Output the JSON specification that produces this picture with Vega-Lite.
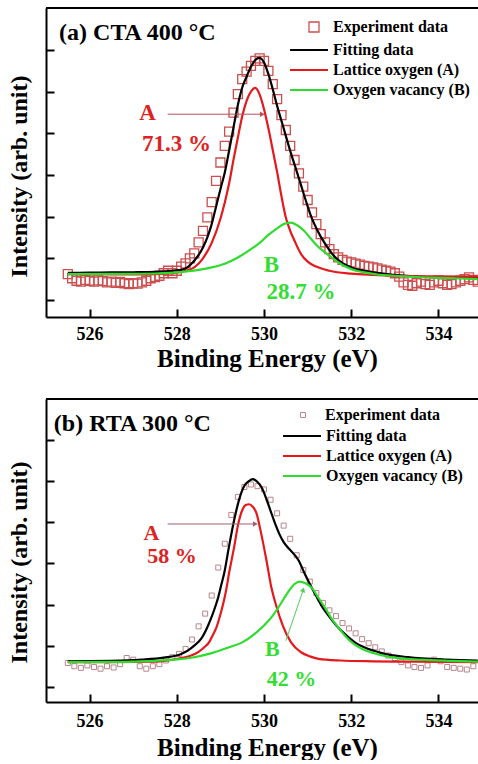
{
"$schema":"https://vega.github.io/schema/vega-lite/v6.json",
"padding":{"left":6,"top":7,"right":0,"bottom":0},
"spacing":27,
"config":{"view":{"stroke":null},"font":"Liberation Serif",
 "legend":{"labelFont":"Liberation Serif","labelFontWeight":"bold","labelFontSize":16,"labelColor":"black","padding":0,"rowPadding":4}},
"resolve":{"scale":{"x":"independent","y":"independent","color":"independent","shape":"independent"},"legend":{"color":"independent","shape":"independent"}},
"datasets":{
"one":[{"k":1}],
"aExp":[
{"x":525.5,"y":0.62},{"x":525.6,"y":0.52},{"x":525.7,"y":0.46},{"x":525.8,"y":0.44},{"x":525.9,"y":0.48},{"x":526.0,"y":0.46},{"x":526.1,"y":0.44},{"x":526.2,"y":0.47},{"x":526.3,"y":0.45},{"x":526.4,"y":0.42},{"x":526.5,"y":0.44},{"x":526.6,"y":0.41},{"x":526.7,"y":0.43},{"x":526.8,"y":0.40},{"x":526.9,"y":0.38},{"x":527.0,"y":0.40},{"x":527.1,"y":0.39},{"x":527.2,"y":0.42},{"x":527.3,"y":0.46},{"x":527.4,"y":0.52},{"x":527.5,"y":0.55},{"x":527.6,"y":0.58},{"x":527.7,"y":0.64},{"x":527.8,"y":0.70},{"x":527.9,"y":0.64},{"x":528.0,"y":0.70},{"x":528.1,"y":0.80},{"x":528.2,"y":0.88},{"x":528.3,"y":1.00},{"x":528.4,"y":1.12},{"x":528.5,"y":1.38},{"x":528.6,"y":1.66},{"x":528.7,"y":1.98},{"x":528.8,"y":2.35},{"x":528.9,"y":2.86},{"x":529.0,"y":3.30},{"x":529.1,"y":3.70},{"x":529.2,"y":4.04},{"x":529.3,"y":4.50},{"x":529.4,"y":4.94},{"x":529.5,"y":5.30},{"x":529.6,"y":5.48},{"x":529.7,"y":5.62},{"x":529.8,"y":5.74},{"x":529.9,"y":5.80},{"x":530.0,"y":5.74},{"x":530.1,"y":5.50},{"x":530.2,"y":5.18},{"x":530.3,"y":4.82},{"x":530.4,"y":4.44},{"x":530.5,"y":4.08},{"x":530.6,"y":3.70},{"x":530.7,"y":3.36},{"x":530.8,"y":3.04},{"x":530.9,"y":2.72},{"x":531.0,"y":2.40},{"x":531.1,"y":2.10},{"x":531.2,"y":1.82},{"x":531.3,"y":1.58},{"x":531.4,"y":1.38},{"x":531.5,"y":1.22},{"x":531.6,"y":1.10},{"x":531.7,"y":1.02},{"x":531.8,"y":0.96},{"x":531.9,"y":0.92},{"x":532.0,"y":0.90},{"x":532.1,"y":0.87},{"x":532.2,"y":0.85},{"x":532.3,"y":0.82},{"x":532.4,"y":0.80},{"x":532.5,"y":0.78},{"x":532.6,"y":0.76},{"x":532.7,"y":0.73},{"x":532.8,"y":0.70},{"x":532.9,"y":0.68},{"x":533.0,"y":0.64},{"x":533.1,"y":0.56},{"x":533.2,"y":0.42},{"x":533.3,"y":0.36},{"x":533.4,"y":0.34},{"x":533.5,"y":0.40},{"x":533.6,"y":0.44},{"x":533.7,"y":0.38},{"x":533.8,"y":0.36},{"x":533.9,"y":0.42},{"x":534.0,"y":0.46},{"x":534.1,"y":0.40},{"x":534.2,"y":0.36},{"x":534.3,"y":0.38},{"x":534.4,"y":0.42},{"x":534.5,"y":0.46},{"x":534.6,"y":0.50},{"x":534.7,"y":0.54},{"x":534.8,"y":0.48},{"x":534.9,"y":0.44}],
"aLines":[
{"s":"Fitting data","x":525.5,"y":0.65},{"s":"Fitting data","x":526.0,"y":0.655},{"s":"Fitting data","x":526.5,"y":0.66},{"s":"Fitting data","x":527.0,"y":0.665},{"s":"Fitting data","x":527.5,"y":0.675},{"s":"Fitting data","x":527.8,"y":0.69},{"s":"Fitting data","x":528.1,"y":0.72},{"s":"Fitting data","x":528.25,"y":0.79},{"s":"Fitting data","x":528.4,"y":0.94},{"s":"Fitting data","x":528.5,"y":1.08},{"s":"Fitting data","x":528.6,"y":1.26},{"s":"Fitting data","x":528.7,"y":1.50},{"s":"Fitting data","x":528.8,"y":1.82},{"s":"Fitting data","x":528.9,"y":2.24},{"s":"Fitting data","x":529.0,"y":2.66},{"s":"Fitting data","x":529.1,"y":3.06},{"s":"Fitting data","x":529.2,"y":3.59},{"s":"Fitting data","x":529.3,"y":4.14},{"s":"Fitting data","x":529.4,"y":4.68},{"s":"Fitting data","x":529.5,"y":5.10},{"s":"Fitting data","x":529.6,"y":5.36},{"s":"Fitting data","x":529.7,"y":5.60},{"s":"Fitting data","x":529.8,"y":5.76},{"s":"Fitting data","x":529.89,"y":5.81},{"s":"Fitting data","x":529.95,"y":5.78},{"s":"Fitting data","x":530.0,"y":5.70},{"s":"Fitting data","x":530.1,"y":5.42},{"s":"Fitting data","x":530.2,"y":5.06},{"s":"Fitting data","x":530.3,"y":4.66},{"s":"Fitting data","x":530.4,"y":4.30},{"s":"Fitting data","x":530.5,"y":3.94},{"s":"Fitting data","x":530.6,"y":3.58},{"s":"Fitting data","x":530.7,"y":3.25},{"s":"Fitting data","x":530.8,"y":2.92},{"s":"Fitting data","x":530.9,"y":2.58},{"s":"Fitting data","x":531.0,"y":2.25},{"s":"Fitting data","x":531.1,"y":1.95},{"s":"Fitting data","x":531.2,"y":1.72},{"s":"Fitting data","x":531.3,"y":1.52},{"s":"Fitting data","x":531.4,"y":1.35},{"s":"Fitting data","x":531.6,"y":1.06},{"s":"Fitting data","x":531.8,"y":0.88},{"s":"Fitting data","x":532.0,"y":0.78},{"s":"Fitting data","x":532.4,"y":0.68},{"s":"Fitting data","x":533.0,"y":0.60},{"s":"Fitting data","x":533.8,"y":0.55},{"s":"Fitting data","x":534.9,"y":0.52},
{"s":"Lattice oxygen (A)","x":525.5,"y":0.62},{"s":"Lattice oxygen (A)","x":526.0,"y":0.62},{"s":"Lattice oxygen (A)","x":526.5,"y":0.615},{"s":"Lattice oxygen (A)","x":527.0,"y":0.615},{"s":"Lattice oxygen (A)","x":527.5,"y":0.62},{"s":"Lattice oxygen (A)","x":527.9,"y":0.64},{"s":"Lattice oxygen (A)","x":528.2,"y":0.70},{"s":"Lattice oxygen (A)","x":528.4,"y":0.78},{"s":"Lattice oxygen (A)","x":528.6,"y":1.00},{"s":"Lattice oxygen (A)","x":528.8,"y":1.37},{"s":"Lattice oxygen (A)","x":529.0,"y":1.95},{"s":"Lattice oxygen (A)","x":529.1,"y":2.34},{"s":"Lattice oxygen (A)","x":529.2,"y":2.80},{"s":"Lattice oxygen (A)","x":529.3,"y":3.37},{"s":"Lattice oxygen (A)","x":529.4,"y":3.90},{"s":"Lattice oxygen (A)","x":529.5,"y":4.41},{"s":"Lattice oxygen (A)","x":529.6,"y":4.78},{"s":"Lattice oxygen (A)","x":529.7,"y":5.00},{"s":"Lattice oxygen (A)","x":529.8,"y":5.09},{"s":"Lattice oxygen (A)","x":529.9,"y":4.93},{"s":"Lattice oxygen (A)","x":530.0,"y":4.58},{"s":"Lattice oxygen (A)","x":530.1,"y":4.12},{"s":"Lattice oxygen (A)","x":530.2,"y":3.60},{"s":"Lattice oxygen (A)","x":530.3,"y":3.07},{"s":"Lattice oxygen (A)","x":530.4,"y":2.49},{"s":"Lattice oxygen (A)","x":530.5,"y":1.98},{"s":"Lattice oxygen (A)","x":530.6,"y":1.66},{"s":"Lattice oxygen (A)","x":530.7,"y":1.42},{"s":"Lattice oxygen (A)","x":530.85,"y":1.10},{"s":"Lattice oxygen (A)","x":531.0,"y":0.92},{"s":"Lattice oxygen (A)","x":531.2,"y":0.80},{"s":"Lattice oxygen (A)","x":531.5,"y":0.70},{"s":"Lattice oxygen (A)","x":532.0,"y":0.63},{"s":"Lattice oxygen (A)","x":532.5,"y":0.60},{"s":"Lattice oxygen (A)","x":533.0,"y":0.58},{"s":"Lattice oxygen (A)","x":534.0,"y":0.565},{"s":"Lattice oxygen (A)","x":534.9,"y":0.56},
{"s":"Oxygen vacancy (B)","x":525.5,"y":0.62},{"s":"Oxygen vacancy (B)","x":526.5,"y":0.625},{"s":"Oxygen vacancy (B)","x":527.5,"y":0.635},{"s":"Oxygen vacancy (B)","x":528.0,"y":0.66},{"s":"Oxygen vacancy (B)","x":528.5,"y":0.72},{"s":"Oxygen vacancy (B)","x":528.8,"y":0.78},{"s":"Oxygen vacancy (B)","x":529.1,"y":0.87},{"s":"Oxygen vacancy (B)","x":529.4,"y":1.02},{"s":"Oxygen vacancy (B)","x":529.7,"y":1.22},{"s":"Oxygen vacancy (B)","x":529.9,"y":1.37},{"s":"Oxygen vacancy (B)","x":530.1,"y":1.56},{"s":"Oxygen vacancy (B)","x":530.3,"y":1.72},{"s":"Oxygen vacancy (B)","x":530.45,"y":1.82},{"s":"Oxygen vacancy (B)","x":530.6,"y":1.855},{"s":"Oxygen vacancy (B)","x":530.75,"y":1.80},{"s":"Oxygen vacancy (B)","x":530.9,"y":1.68},{"s":"Oxygen vacancy (B)","x":531.05,"y":1.50},{"s":"Oxygen vacancy (B)","x":531.2,"y":1.32},{"s":"Oxygen vacancy (B)","x":531.4,"y":1.14},{"s":"Oxygen vacancy (B)","x":531.6,"y":0.98},{"s":"Oxygen vacancy (B)","x":531.8,"y":0.84},{"s":"Oxygen vacancy (B)","x":532.0,"y":0.74},{"s":"Oxygen vacancy (B)","x":532.3,"y":0.66},{"s":"Oxygen vacancy (B)","x":532.6,"y":0.61},{"s":"Oxygen vacancy (B)","x":533.0,"y":0.58},{"s":"Oxygen vacancy (B)","x":533.5,"y":0.55},{"s":"Oxygen vacancy (B)","x":534.0,"y":0.53},{"s":"Oxygen vacancy (B)","x":534.5,"y":0.515},{"s":"Oxygen vacancy (B)","x":534.9,"y":0.50}],
"bExp":[
{"x":525.5,"y":0.58},{"x":525.65,"y":0.50},{"x":525.8,"y":0.46},{"x":525.95,"y":0.52},{"x":526.1,"y":0.48},{"x":526.25,"y":0.44},{"x":526.4,"y":0.50},{"x":526.55,"y":0.47},{"x":526.7,"y":0.55},{"x":526.85,"y":0.70},{"x":527.0,"y":0.66},{"x":527.15,"y":0.50},{"x":527.3,"y":0.44},{"x":527.45,"y":0.50},{"x":527.6,"y":0.55},{"x":527.75,"y":0.64},{"x":527.9,"y":0.72},{"x":528.05,"y":0.80},{"x":528.2,"y":0.92},{"x":528.35,"y":1.15},{"x":528.5,"y":1.47},{"x":528.65,"y":1.78},{"x":528.8,"y":2.22},{"x":528.95,"y":2.90},{"x":529.1,"y":3.48},{"x":529.25,"y":4.18},{"x":529.4,"y":4.62},{"x":529.55,"y":4.86},{"x":529.7,"y":4.92},{"x":529.85,"y":4.88},{"x":530.0,"y":4.80},{"x":530.15,"y":4.55},{"x":530.3,"y":4.22},{"x":530.45,"y":3.92},{"x":530.6,"y":3.60},{"x":530.75,"y":3.20},{"x":530.9,"y":2.84},{"x":531.05,"y":2.56},{"x":531.2,"y":2.28},{"x":531.35,"y":2.04},{"x":531.5,"y":1.86},{"x":531.65,"y":1.72},{"x":531.8,"y":1.55},{"x":531.95,"y":1.42},{"x":532.1,"y":1.30},{"x":532.25,"y":1.16},{"x":532.4,"y":1.06},{"x":532.55,"y":0.96},{"x":532.7,"y":0.86},{"x":532.85,"y":0.76},{"x":533.0,"y":0.70},{"x":533.15,"y":0.60},{"x":533.3,"y":0.52},{"x":533.45,"y":0.48},{"x":533.6,"y":0.46},{"x":533.75,"y":0.52},{"x":533.9,"y":0.66},{"x":534.05,"y":0.62},{"x":534.2,"y":0.48},{"x":534.35,"y":0.46},{"x":534.5,"y":0.44},{"x":534.65,"y":0.42},{"x":534.8,"y":0.50}],
"bLines":[
{"s":"Fitting data","x":525.5,"y":0.62},{"s":"Fitting data","x":526.5,"y":0.63},{"s":"Fitting data","x":527.2,"y":0.66},{"s":"Fitting data","x":527.7,"y":0.71},{"s":"Fitting data","x":528.1,"y":0.80},{"s":"Fitting data","x":528.25,"y":0.88},{"s":"Fitting data","x":528.4,"y":1.00},{"s":"Fitting data","x":528.56,"y":1.17},{"s":"Fitting data","x":528.7,"y":1.45},{"s":"Fitting data","x":528.78,"y":1.65},{"s":"Fitting data","x":528.86,"y":1.88},{"s":"Fitting data","x":528.94,"y":2.14},{"s":"Fitting data","x":529.02,"y":2.48},{"s":"Fitting data","x":529.09,"y":2.78},{"s":"Fitting data","x":529.2,"y":3.43},{"s":"Fitting data","x":529.32,"y":4.08},{"s":"Fitting data","x":529.43,"y":4.56},{"s":"Fitting data","x":529.55,"y":4.89},{"s":"Fitting data","x":529.65,"y":5.00},{"s":"Fitting data","x":529.74,"y":5.05},{"s":"Fitting data","x":529.85,"y":4.98},{"s":"Fitting data","x":529.95,"y":4.84},{"s":"Fitting data","x":530.05,"y":4.58},{"s":"Fitting data","x":530.15,"y":4.28},{"s":"Fitting data","x":530.25,"y":3.98},{"s":"Fitting data","x":530.35,"y":3.72},{"s":"Fitting data","x":530.45,"y":3.52},{"s":"Fitting data","x":530.58,"y":3.35},{"s":"Fitting data","x":530.7,"y":3.21},{"s":"Fitting data","x":530.8,"y":3.06},{"s":"Fitting data","x":530.92,"y":2.78},{"s":"Fitting data","x":531.05,"y":2.50},{"s":"Fitting data","x":531.2,"y":2.20},{"s":"Fitting data","x":531.35,"y":1.92},{"s":"Fitting data","x":531.5,"y":1.70},{"s":"Fitting data","x":531.7,"y":1.44},{"s":"Fitting data","x":531.9,"y":1.24},{"s":"Fitting data","x":532.1,"y":1.07},{"s":"Fitting data","x":532.3,"y":0.96},{"s":"Fitting data","x":532.7,"y":0.82},{"s":"Fitting data","x":533.3,"y":0.72},{"s":"Fitting data","x":534.2,"y":0.66},{"s":"Fitting data","x":534.9,"y":0.64},
{"s":"Lattice oxygen (A)","x":525.5,"y":0.60},{"s":"Lattice oxygen (A)","x":526.5,"y":0.60},{"s":"Lattice oxygen (A)","x":527.5,"y":0.61},{"s":"Lattice oxygen (A)","x":528.1,"y":0.70},{"s":"Lattice oxygen (A)","x":528.33,"y":0.76},{"s":"Lattice oxygen (A)","x":528.5,"y":0.85},{"s":"Lattice oxygen (A)","x":528.63,"y":0.96},{"s":"Lattice oxygen (A)","x":528.75,"y":1.10},{"s":"Lattice oxygen (A)","x":528.82,"y":1.25},{"s":"Lattice oxygen (A)","x":528.9,"y":1.42},{"s":"Lattice oxygen (A)","x":528.97,"y":1.65},{"s":"Lattice oxygen (A)","x":529.03,"y":1.88},{"s":"Lattice oxygen (A)","x":529.09,"y":2.14},{"s":"Lattice oxygen (A)","x":529.15,"y":2.46},{"s":"Lattice oxygen (A)","x":529.2,"y":2.78},{"s":"Lattice oxygen (A)","x":529.26,"y":3.10},{"s":"Lattice oxygen (A)","x":529.32,"y":3.43},{"s":"Lattice oxygen (A)","x":529.4,"y":3.92},{"s":"Lattice oxygen (A)","x":529.51,"y":4.32},{"s":"Lattice oxygen (A)","x":529.58,"y":4.42},{"s":"Lattice oxygen (A)","x":529.66,"y":4.44},{"s":"Lattice oxygen (A)","x":529.74,"y":4.38},{"s":"Lattice oxygen (A)","x":529.82,"y":4.24},{"s":"Lattice oxygen (A)","x":529.93,"y":3.75},{"s":"Lattice oxygen (A)","x":530.05,"y":3.11},{"s":"Lattice oxygen (A)","x":530.16,"y":2.46},{"s":"Lattice oxygen (A)","x":530.28,"y":1.97},{"s":"Lattice oxygen (A)","x":530.43,"y":1.49},{"s":"Lattice oxygen (A)","x":530.62,"y":1.08},{"s":"Lattice oxygen (A)","x":530.85,"y":0.84},{"s":"Lattice oxygen (A)","x":531.05,"y":0.74},{"s":"Lattice oxygen (A)","x":531.25,"y":0.68},{"s":"Lattice oxygen (A)","x":531.75,"y":0.64},{"s":"Lattice oxygen (A)","x":532.5,"y":0.62},{"s":"Lattice oxygen (A)","x":533.5,"y":0.61},{"s":"Lattice oxygen (A)","x":534.9,"y":0.60},
{"s":"Oxygen vacancy (B)","x":525.5,"y":0.60},{"s":"Oxygen vacancy (B)","x":526.5,"y":0.605},{"s":"Oxygen vacancy (B)","x":527.2,"y":0.62},{"s":"Oxygen vacancy (B)","x":527.8,"y":0.65},{"s":"Oxygen vacancy (B)","x":528.3,"y":0.70},{"s":"Oxygen vacancy (B)","x":528.8,"y":0.82},{"s":"Oxygen vacancy (B)","x":529.2,"y":0.96},{"s":"Oxygen vacancy (B)","x":529.5,"y":1.08},{"s":"Oxygen vacancy (B)","x":529.8,"y":1.30},{"s":"Oxygen vacancy (B)","x":530.0,"y":1.49},{"s":"Oxygen vacancy (B)","x":530.2,"y":1.73},{"s":"Oxygen vacancy (B)","x":530.4,"y":2.05},{"s":"Oxygen vacancy (B)","x":530.55,"y":2.30},{"s":"Oxygen vacancy (B)","x":530.7,"y":2.50},{"s":"Oxygen vacancy (B)","x":530.82,"y":2.56},{"s":"Oxygen vacancy (B)","x":530.95,"y":2.52},{"s":"Oxygen vacancy (B)","x":531.1,"y":2.40},{"s":"Oxygen vacancy (B)","x":531.25,"y":2.16},{"s":"Oxygen vacancy (B)","x":531.4,"y":1.92},{"s":"Oxygen vacancy (B)","x":531.55,"y":1.66},{"s":"Oxygen vacancy (B)","x":531.7,"y":1.45},{"s":"Oxygen vacancy (B)","x":531.85,"y":1.25},{"s":"Oxygen vacancy (B)","x":532.05,"y":1.05},{"s":"Oxygen vacancy (B)","x":532.25,"y":0.92},{"s":"Oxygen vacancy (B)","x":532.5,"y":0.82},{"s":"Oxygen vacancy (B)","x":532.9,"y":0.72},{"s":"Oxygen vacancy (B)","x":533.6,"y":0.66},{"s":"Oxygen vacancy (B)","x":534.3,"y":0.63},{"s":"Oxygen vacancy (B)","x":534.9,"y":0.61}]
},
"vconcat":[
{
 "width":433,"height":309,
 "layer":[
  {"data":{"name":"aExp"},
   "mark":{"type":"point","filled":false,"color":"#cc4f4f","size":81,"strokeWidth":1.3,"opacity":1},
   "encoding":{
    "x":{"field":"x","type":"quantitative","scale":{"domain":[525,534.93],"nice":false,"zero":false},
     "axis":{"values":[526,528,530,532,534],"title":"Binding Energy (eV)","grid":false,"tickSize":-8,"tickWidth":2,"tickColor":"black","domainColor":"black","domainWidth":2,"labelFont":"Liberation Serif","labelFontWeight":"bold","labelFontSize":18,"labelColor":"black","labelBaseline":"alphabetic","labelPadding":30,"labelFlush":false,"titleFont":"Liberation Serif","titleFontSize":25,"titleFontWeight":"bold","titleColor":"black","titleBaseline":"alphabetic","titleAlign":"center","titleX":221,"titleY":49}},
    "y":{"field":"y","type":"quantitative","scale":{"domain":[-0.41,7.01],"nice":false,"zero":false},
     "axis":{"values":[0,1,2,3,4,5,6],"labels":false,"title":"Intensity (arb. unit)","grid":false,"tickSize":-8,"tickWidth":2,"tickColor":"black","domainColor":"black","domainWidth":2,"titleFont":"Liberation Serif","titleFontSize":24,"titleFontWeight":"bold","titleColor":"black","titleAngle":270,"titleBaseline":"alphabetic","titleAlign":"center","titleX":-20,"titleY":168}},
    "shape":{"datum":"Experiment data","scale":{"range":["square"]},
     "legend":{"title":null,"orient":"none","legendX":260,"legendY":11,"symbolSize":100,"symbolStrokeWidth":1.3,"symbolStrokeColor":"#cc4f4f","symbolFillColor":"transparent","labelOffset":11}}}},
  {"data":{"name":"aLines"},
   "mark":{"type":"line","interpolate":"monotone","strokeWidth":2.2},
   "encoding":{"x":{"field":"x","type":"quantitative"},"y":{"field":"y","type":"quantitative"},
    "color":{"field":"s","type":"nominal","scale":{"domain":["Fitting data","Lattice oxygen (A)","Oxygen vacancy (B)"],"range":["#000000","#e3191c","#2edc2e"]},
    "legend":{"title":null,"orient":"none","legendX":255,"legendY":34,"symbolType":"M-4,0H4","symbolSize":90,"symbolStrokeWidth":2.2,"labelOffset":16}}}},
  {"data":{"name":"one"},"mark":{"type":"rule","color":"black","strokeWidth":2},"encoding":{"y":{"datum":7.01}}},
  {"data":{"name":"one"},"mark":{"type":"rule","color":"#b8505a","strokeWidth":1},"encoding":{"x":{"datum":527.79},"x2":{"datum":529.98},"y":{"datum":4.46}}},
  {"data":{"name":"one"},"mark":{"type":"point","shape":"triangle-right","filled":true,"color":"#b8505a","size":30,"opacity":1},"encoding":{"x":{"datum":529.96},"y":{"datum":4.46}}},
  {"data":{"name":"one"},"mark":{"type":"text","font":"Liberation Serif","fontWeight":"bold","fontSize":24,"color":"black","align":"left","baseline":"alphabetic"},"encoding":{"x":{"datum":525.3},"y":{"datum":6.24},"text":{"value":"(a) CTA 400 °C"}}},
  {"data":{"name":"one"},"mark":{"type":"text","font":"Liberation Serif","fontWeight":"bold","fontSize":23,"color":"#dd2222","align":"center","baseline":"middle"},"encoding":{"x":{"datum":527.33},"y":{"datum":4.48},"text":{"value":"A"}}},
  {"data":{"name":"one"},"mark":{"type":"text","font":"Liberation Serif","fontWeight":"bold","fontSize":23,"color":"#dd2222","align":"center","baseline":"middle"},"encoding":{"x":{"datum":527.99},"y":{"datum":3.74},"text":{"value":"71.3 %"}}},
  {"data":{"name":"one"},"mark":{"type":"text","font":"Liberation Serif","fontWeight":"bold","fontSize":23,"color":"#33dd33","align":"center","baseline":"middle"},"encoding":{"x":{"datum":530.17},"y":{"datum":0.83},"text":{"value":"B"}}},
  {"data":{"name":"one"},"mark":{"type":"text","font":"Liberation Serif","fontWeight":"bold","fontSize":23,"color":"#33dd33","align":"center","baseline":"middle"},"encoding":{"x":{"datum":530.85},"y":{"datum":0.18},"text":{"value":"28.7 %"}}}
 ]
},
{
 "width":433,"height":303,
 "layer":[
  {"data":{"name":"bExp"},
   "mark":{"type":"point","filled":false,"color":"#b9868c","size":25,"strokeWidth":1,"opacity":1},
   "encoding":{
    "x":{"field":"x","type":"quantitative","scale":{"domain":[525,534.93],"nice":false,"zero":false},
     "axis":{"values":[526,528,530,532,534],"title":"Binding Energy (eV)","grid":false,"tickSize":-8,"tickWidth":2,"tickColor":"black","domainColor":"black","domainWidth":2,"labelFont":"Liberation Serif","labelFontWeight":"bold","labelFontSize":18,"labelColor":"black","labelBaseline":"alphabetic","labelPadding":32,"labelFlush":false,"titleFont":"Liberation Serif","titleFontSize":25,"titleFontWeight":"bold","titleColor":"black","titleBaseline":"alphabetic","titleAlign":"center","titleX":221,"titleY":53}},
    "y":{"field":"y","type":"quantitative","scale":{"domain":[-0.37,7.0],"nice":false,"zero":false},
     "axis":{"values":[0,1,2,3,4,5,6],"labels":false,"title":"Intensity (arb. unit)","grid":false,"tickSize":-8,"tickWidth":2,"tickColor":"black","domainColor":"black","domainWidth":2,"titleFont":"Liberation Serif","titleFontSize":24,"titleFontWeight":"bold","titleColor":"black","titleAngle":270,"titleBaseline":"alphabetic","titleAlign":"center","titleX":-20,"titleY":163}},
    "shape":{"datum":"Experiment data","scale":{"range":["square"]},
     "legend":{"title":null,"orient":"none","legendX":249,"legendY":8,"symbolSize":25,"symbolStrokeWidth":1,"symbolStrokeColor":"#b9868c","symbolFillColor":"transparent","labelOffset":14}}}},
  {"data":{"name":"bLines"},
   "mark":{"type":"line","interpolate":"monotone","strokeWidth":2.2},
   "encoding":{"x":{"field":"x","type":"quantitative"},"y":{"field":"y","type":"quantitative"},
    "color":{"field":"s","type":"nominal","scale":{"domain":["Fitting data","Lattice oxygen (A)","Oxygen vacancy (B)"],"range":["#000000","#e3191c","#2edc2e"]},
    "legend":{"title":null,"orient":"none","legendX":248,"legendY":29,"symbolType":"M-4,0H4","symbolSize":90,"symbolStrokeWidth":2.2,"labelOffset":16}}}},
  {"data":{"name":"one"},"mark":{"type":"rule","color":"black","strokeWidth":2},"encoding":{"y":{"datum":7.0}}},
  {"data":{"name":"one"},"mark":{"type":"rule","color":"#a06070","strokeWidth":1},"encoding":{"x":{"datum":527.79},"x2":{"datum":529.83},"y":{"datum":3.96}}},
  {"data":{"name":"one"},"mark":{"type":"point","shape":"triangle-right","filled":true,"color":"#a06070","size":30,"opacity":1},"encoding":{"x":{"datum":529.8},"y":{"datum":3.96}}},
  {"data":{"name":"one"},"mark":{"type":"rule","color":"#55cc55","strokeWidth":1},"encoding":{"x":{"datum":530.5},"y":{"datum":1.12},"x2":{"datum":530.9},"y2":{"datum":2.36}}},
  {"data":{"name":"one"},"mark":{"type":"point","shape":"triangle-up","filled":true,"color":"#55cc55","size":30,"angle":19,"opacity":1},"encoding":{"x":{"datum":530.9},"y":{"datum":2.36}}},
  {"data":{"name":"one"},"mark":{"type":"text","font":"Liberation Serif","fontWeight":"bold","fontSize":24,"color":"black","align":"left","baseline":"alphabetic"},"encoding":{"x":{"datum":525.18},"y":{"datum":6.21},"text":{"value":"(b) RTA 300 °C"}}},
  {"data":{"name":"one"},"mark":{"type":"text","font":"Liberation Serif","fontWeight":"bold","fontSize":22,"color":"#dd2222","align":"center","baseline":"middle"},"encoding":{"x":{"datum":527.42},"y":{"datum":3.73},"text":{"value":"A"}}},
  {"data":{"name":"one"},"mark":{"type":"text","font":"Liberation Serif","fontWeight":"bold","fontSize":22,"color":"#dd2222","align":"center","baseline":"middle"},"encoding":{"x":{"datum":527.89},"y":{"datum":3.17},"text":{"value":"58 %"}}},
  {"data":{"name":"one"},"mark":{"type":"text","font":"Liberation Serif","fontWeight":"bold","fontSize":22,"color":"#33dd33","align":"center","baseline":"middle"},"encoding":{"x":{"datum":530.19},"y":{"datum":0.93},"text":{"value":"B"}}},
  {"data":{"name":"one"},"mark":{"type":"text","font":"Liberation Serif","fontWeight":"bold","fontSize":22,"color":"#33dd33","align":"center","baseline":"middle"},"encoding":{"x":{"datum":530.63},"y":{"datum":0.19},"text":{"value":"42 %"}}}
 ]
}
]
}
